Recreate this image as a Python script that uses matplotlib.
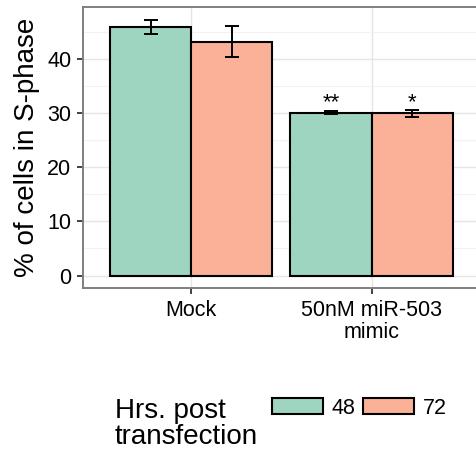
import matplotlib
matplotlib.use("Agg")
import matplotlib.pyplot as plt
import numpy as np
from matplotlib.patches import Patch

plt.rcParams['font.family'] = ['Liberation Sans', 'DejaVu Sans']

categories = ["Mock", "50nM miR-503\nmimic"]
hours = ["48", "72"]
values_48 = [45.9, 30.1]
values_72 = [43.2, 29.95]
err_48 = [1.35, 0.2]
err_72 = [2.9, 0.7]
stars_48 = ["", "**"]
stars_72 = ["", "*"]
colors = ["#9ED5C1", "#FAB197"]

fig = plt.figure(figsize=(4.76, 4.53), dpi=100)
ax = fig.add_axes([83/476, 1-288/453, (479.7-83)/476, (288-7)/453])

x = np.arange(1, len(categories)+1)
w = 0.45
for i, (vals, errs, stars) in enumerate([(values_48, err_48, stars_48), (values_72, err_72, stars_72)]):
    pos = x + (i - 0.5) * w
    ax.bar(pos, vals, width=w, color=colors[i], edgecolor="black", linewidth=1.5, zorder=3)
    ax.errorbar(pos, vals, yerr=errs, fmt="none", ecolor="black", elinewidth=1.4,
                capsize=4.9, capthick=1.4, zorder=4)
    for p, v, e, s in zip(pos, vals, errs, stars):
        if s:
            ax.text(p, 31.0, s, ha="center", va="baseline", fontsize=16, zorder=5)

ax.set_xlim(0.4, 2.6)
ax.set_ylim(-2.3, 49.6)
ax.set_yticks([0, 10, 20, 30, 40])
ax.set_yticks([5, 15, 25, 35, 45], minor=True)
ax.set_xticks(x)
ax.set_xticklabels(categories, fontsize=15.5, linespacing=1.1)
ax.tick_params(axis='y', labelsize=15.5, length=4.3, width=1.3, color="#333333", pad=4)
ax.tick_params(axis='y', which='minor', length=0)
ax.tick_params(axis='x', length=4.3, width=1.3, color="#333333", pad=4)
ax.grid(True, which='major', color="#E5E5E5", linewidth=1.0, zorder=0)
ax.grid(True, which='minor', axis='y', color="#F2F2F2", linewidth=0.8, zorder=0)
ax.set_axisbelow(True)
for sp in ax.spines.values():
    sp.set_color("#7F7F7F")
    sp.set_linewidth(1.4)
ax.set_ylabel("% of cells in S-phase", fontsize=20, labelpad=5)

handles = [Patch(facecolor=colors[0], edgecolor="black", linewidth=1.5),
           Patch(facecolor=colors[1], edgecolor="black", linewidth=1.5)]
fig.text(115/476, 1-424/453, "Hrs. post\ntransfection", fontsize=20, ha="left", va="center",
         linespacing=1.02)
leg = fig.legend(handles, hours, loc="center left", bbox_to_anchor=(272/476, 1-408/453),
                 ncol=2, frameon=False, fontsize=15.5, handlelength=2.37, handleheight=0.7,
                 handletextpad=0.4, columnspacing=0.37, borderpad=0, borderaxespad=0)

fig.savefig("out.png", dpi=100)
